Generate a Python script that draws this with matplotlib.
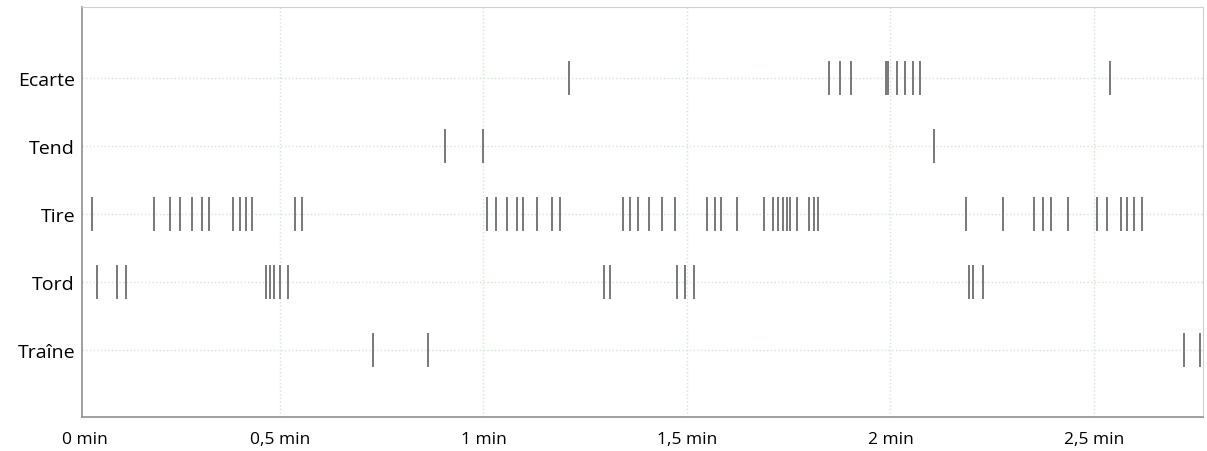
import matplotlib
matplotlib.use("Agg")
import matplotlib.pyplot as plt

# Event times (minutes) per behaviour
categories = ["Ecarte", "Tend", "Tire", "Tord", "Traîne"]

ecarte = [1.210, 1.849, 1.876, 1.903, 1.989, 1.994, 2.016, 2.036, 2.055, 2.073, 2.539]
tend = [0.905, 0.999, 2.107]
tire = [0.038, 0.190, 0.230, 0.254, 0.284, 0.308, 0.326, 0.384, 0.401, 0.416, 0.431,
        0.537, 0.554,
        1.009, 1.031, 1.058, 1.082, 1.097, 1.131, 1.168, 1.188,
        1.343, 1.360, 1.380, 1.407, 1.439, 1.471,
        1.549, 1.569, 1.583, 1.623,
        1.689, 1.711, 1.724, 1.736, 1.746, 1.753, 1.770, 1.800, 1.812, 1.822,
        2.185, 2.276, 2.353, 2.375, 2.394, 2.436,
        2.507, 2.532, 2.566, 2.581, 2.598, 2.618]
tord = [0.050, 0.100, 0.122, 0.466, 0.475, 0.485, 0.500, 0.520,
        1.296, 1.311, 1.475, 1.495, 1.517, 2.193, 2.203, 2.227]
traine = [0.728, 0.864, 2.721, 2.760]

xticks = [0.5, 1, 1.5, 2, 2.5]
xtick_labels = ["0,5 min", "1 min", "1,5 min", "2 min", "2,5 min"]

plt.rcParams["font.family"] = ["Open Sans", "DejaVu Sans"]

fig = plt.figure(figsize=(12.07, 4.52), dpi=100)
ax = fig.add_axes([82 / 1207, 34 / 452, 1121 / 1207, 410 / 452])

series = [ecarte, tend, tire, tord, traine]
offsets = [5, 4, 3, 2, 1]
ax.eventplot(series, lineoffsets=offsets, linelengths=0.5,
             colors="#787878", linewidths=1.4, zorder=3)

ax.set_xlim(0.0135, 2.768)
ax.set_ylim(0.02, 6.05)

ax.set_yticks(offsets)
ax.set_yticklabels(categories, fontsize=14)
ax.set_xticks(xticks)
ax.set_xticklabels(xtick_labels, fontsize=12.5)
ax.tick_params(length=0)
ax.tick_params(axis="y", pad=5)
ax.tick_params(axis="x", pad=10)
# the "0 min" label sits at the left edge of the axis
ax.text(0.003, -0.035, "0 min", transform=ax.transAxes, fontsize=12.5,
        ha="center", va="top")

ax.grid(True, color="#cfe6cf", linestyle=":", linewidth=1.0, zorder=0)

for side in ["top", "right"]:
    ax.spines[side].set_color("#d0d0d0")
for side in ["left", "bottom"]:
    ax.spines[side].set_color("#909090")
    ax.spines[side].set_linewidth(1.2)

plt.savefig("out.png", dpi=100)
